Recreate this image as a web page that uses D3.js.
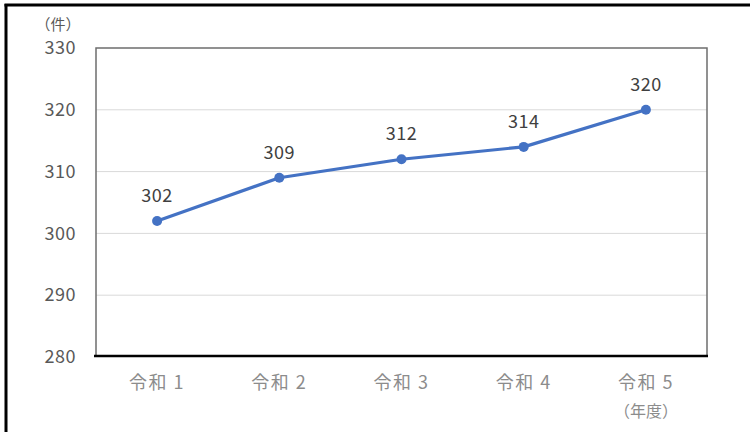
<!DOCTYPE html>
<html>
<head>
<meta charset="utf-8">
<script src="https://cdn.jsdelivr.net/npm/d3@7"></script>
<style>
  html, body { margin: 0; padding: 0; background: #fff; }
  svg { display: block; }
  text { font-family: "Noto Sans CJK JP", "Noto Sans", sans-serif; }
</style>
</head>
<body>
<svg id="chart" width="750" height="432"></svg>
<script>
// Annual counts, fiscal years Reiwa 1–5
const categories = ["令和 1", "令和 2", "令和 3", "令和 4", "令和 5"];
const counts = [302, 309, 312, 314, 320];
const yTicks = [280, 290, 300, 310, 320, 330];
const yUnit = "（件）";
const xUnit = "（年度）";

const svg = d3.select("#chart");
const W = 750, H = 432;
const plot = { left: 96, top: 48, right: 707, bottom: 357 };
const numFont = "'Noto Sans', 'Open Sans', sans-serif";

// outer frame: left and top edges
svg.append("line").attr("x1", 6).attr("x2", 6).attr("y1", 4).attr("y2", H)
  .attr("stroke", "#000").attr("stroke-width", 3);
svg.append("line").attr("x1", 4.5).attr("x2", W).attr("y1", 5).attr("y2", 5)
  .attr("stroke", "#000").attr("stroke-width", 3);

const x = d3.scaleBand().domain(categories).range([plot.left, plot.right]).padding(0);
const y = d3.scaleLinear().domain([280, 330]).range([plot.bottom, plot.top]);

// gridlines
svg.append("g").selectAll("line").data(yTicks.slice(1, -1)).join("line")
  .attr("x1", plot.left).attr("x2", plot.right)
  .attr("y1", d => y(d)).attr("y2", d => y(d))
  .attr("stroke", "#d9d9d9").attr("stroke-width", 1);

// plot area border (left, top, right)
svg.append("path")
  .attr("d", `M${plot.left},${plot.bottom} V${plot.top} H${plot.right} V${plot.bottom}`)
  .attr("fill", "none").attr("stroke", "#6e6e6e").attr("stroke-width", 1.5);

// y axis labels
const yAxis = d3.axisLeft(y).tickValues(yTicks).tickSize(0).tickPadding(20);
const gy = svg.append("g").attr("transform", `translate(${plot.left},0)`).call(yAxis);
gy.select(".domain").remove();
gy.selectAll("text").attr("font-size", 18).attr("fill", "#595959")
  .attr("font-family", numFont).attr("letter-spacing", 0.5);

svg.append("text").attr("x", 58).attr("y", 30).attr("text-anchor", "middle")
  .attr("font-size", 15).attr("fill", "#595959").text(yUnit);

// x axis
const xAxis = d3.axisBottom(x).tickSize(0).tickPadding(19);
const gx = svg.append("g").attr("transform", `translate(0,${plot.bottom})`).call(xAxis);
gx.select(".domain").remove();
gx.selectAll("text").attr("font-size", 18).attr("fill", "#8c8c8c")
  .attr("font-family", "'Noto Sans CJK JP', sans-serif").attr("letter-spacing", 1.5);
svg.append("line").attr("x1", plot.left - 2).attr("x2", plot.right + 1)
  .attr("y1", plot.bottom - 1).attr("y2", plot.bottom - 1)
  .attr("stroke", "#000").attr("stroke-width", 2.5);

svg.append("text")
  .attr("x", x(categories[4]) + x.bandwidth() / 2).attr("y", 417)
  .attr("text-anchor", "middle").attr("font-size", 16).attr("fill", "#8c8c8c")
  .text(xUnit);

// series line
const cx = d => x(d) + x.bandwidth() / 2;
const pts = categories.map((c, i) => [cx(c), y(counts[i])]);
svg.append("path").attr("d", d3.line()(pts))
  .attr("fill", "none").attr("stroke", "#4472C4").attr("stroke-width", 3.2)
  .attr("stroke-linejoin", "round");
svg.append("g").selectAll("circle").data(pts).join("circle")
  .attr("cx", d => d[0]).attr("cy", d => d[1]).attr("r", 5)
  .attr("fill", "#4472C4");

// value labels
svg.append("g").selectAll("text").data(counts).join("text")
  .attr("x", (d, i) => cx(categories[i]))
  .attr("y", d => y(d) - 19)
  .attr("text-anchor", "middle").attr("font-size", 18).attr("fill", "#404040")
  .attr("font-family", numFont).attr("letter-spacing", 0.5)
  .text(d => d);
</script>
</body>
</html>
